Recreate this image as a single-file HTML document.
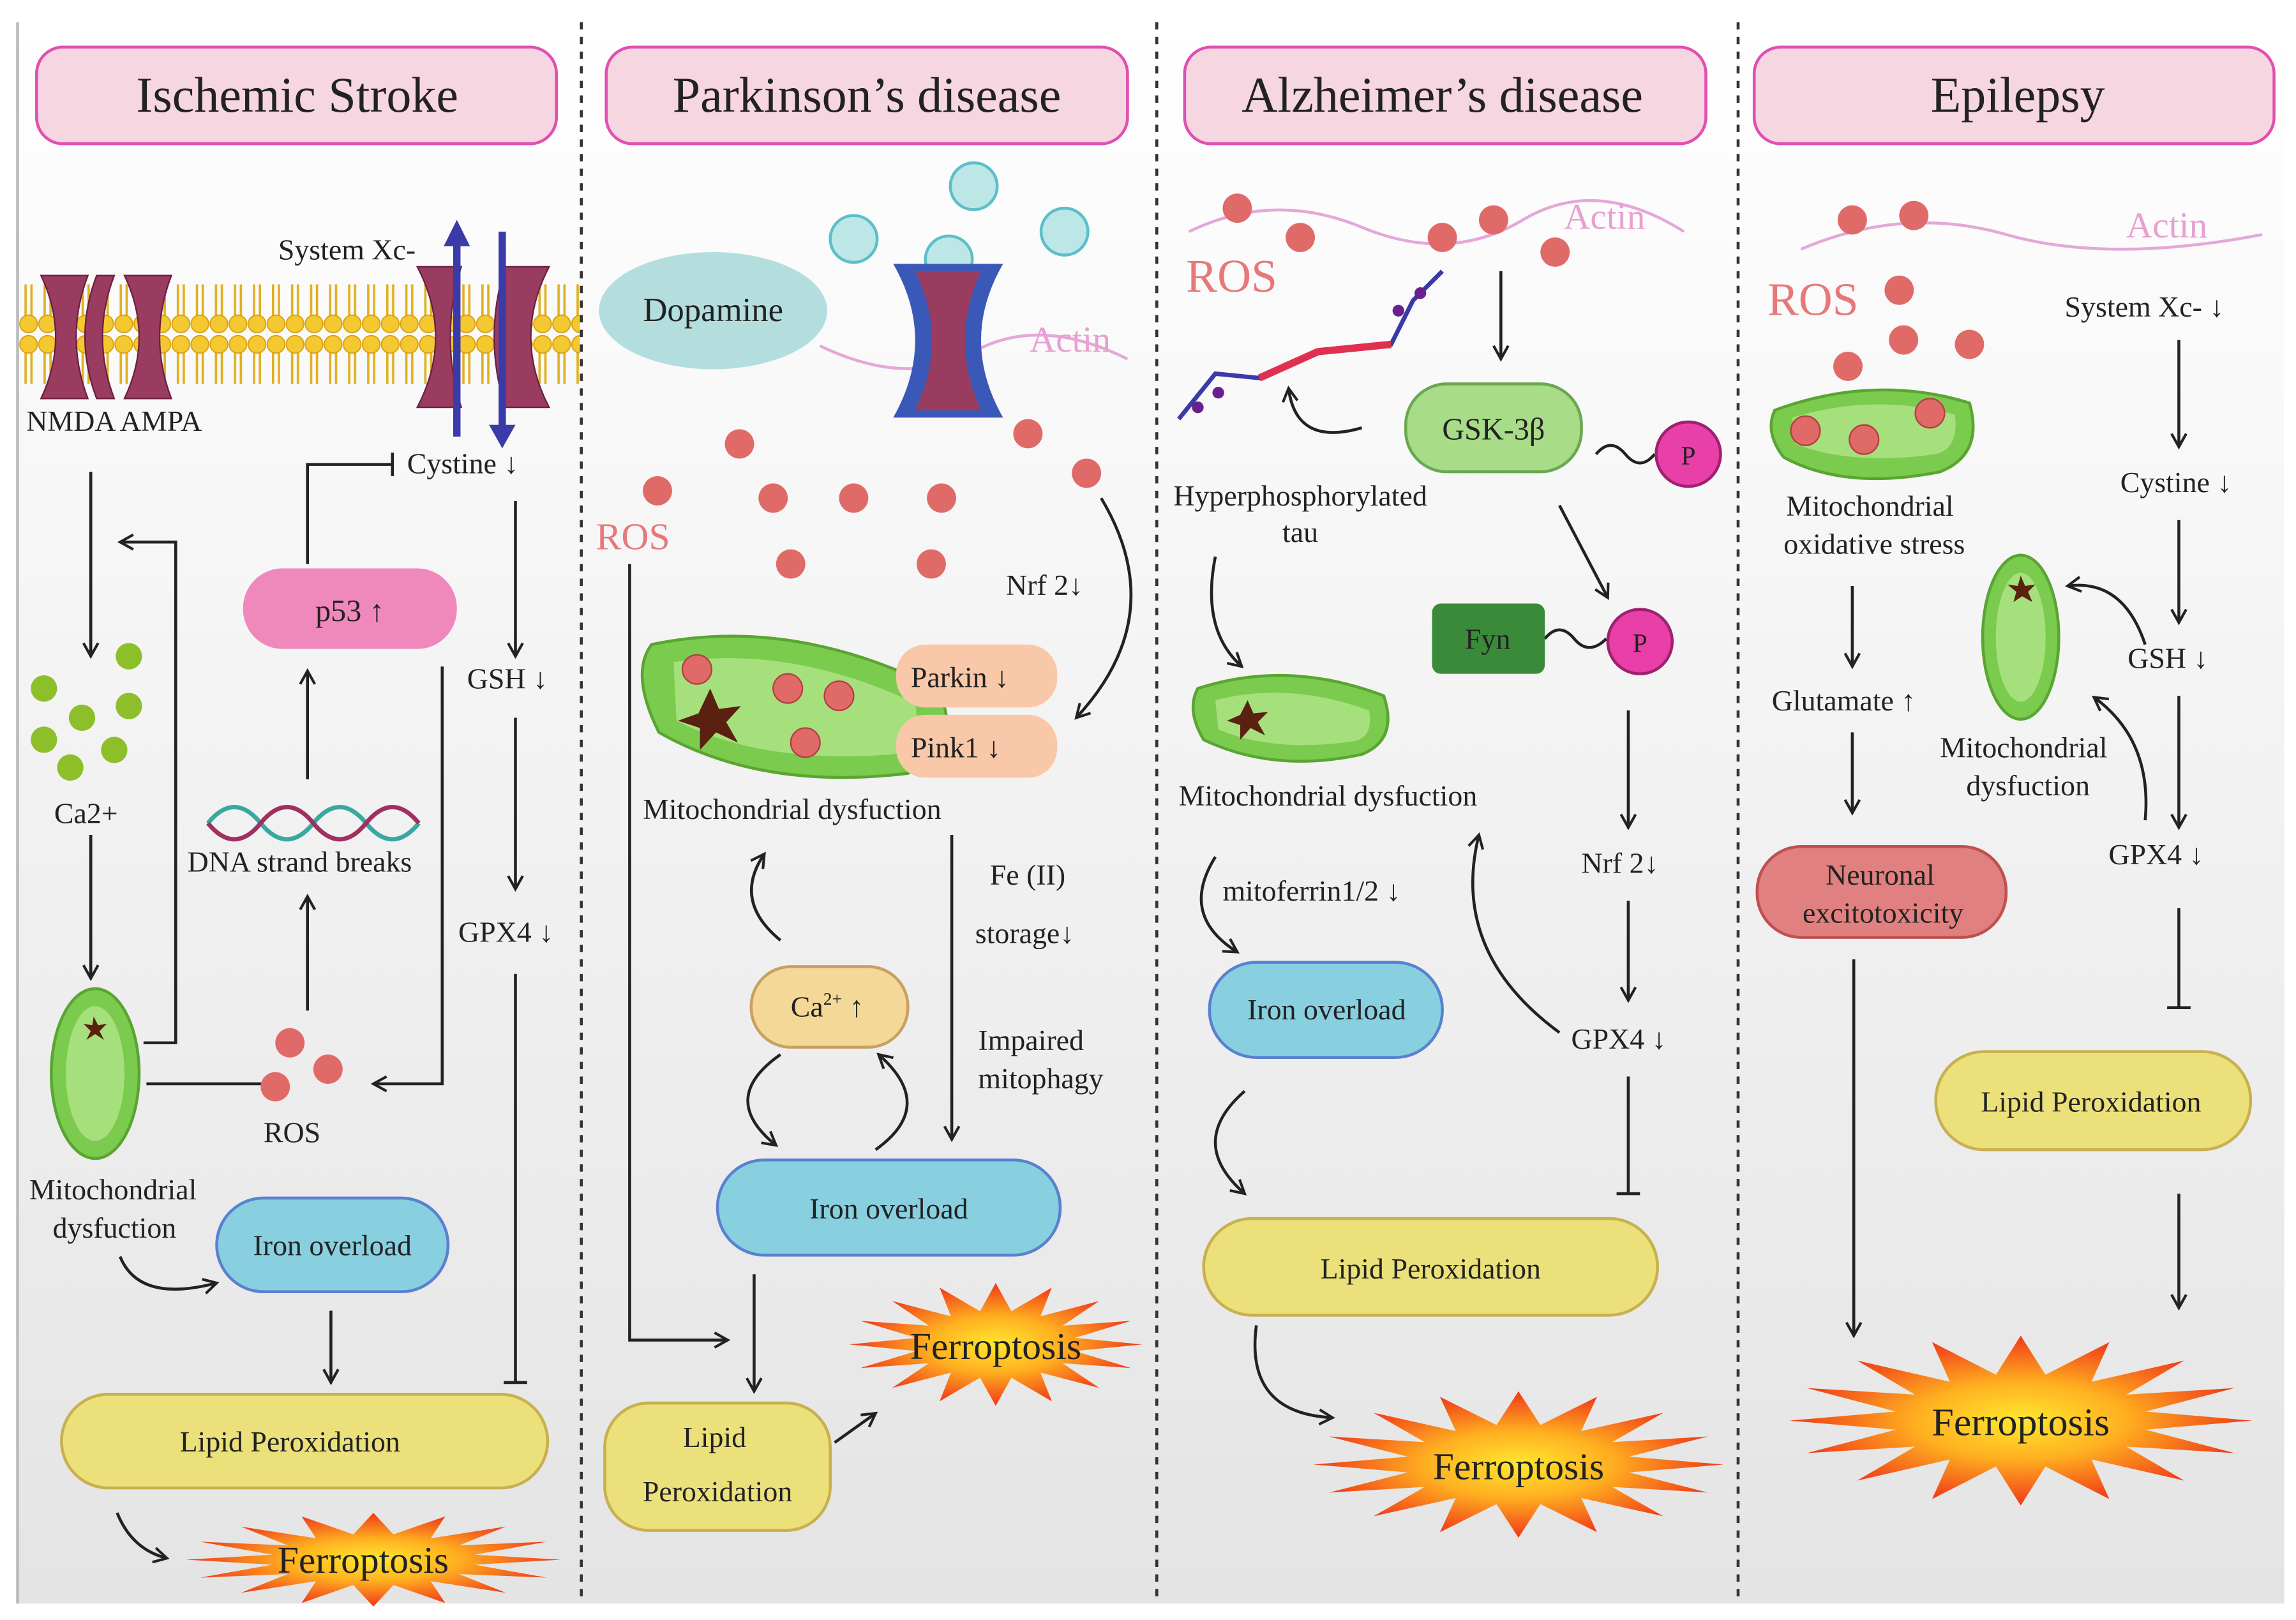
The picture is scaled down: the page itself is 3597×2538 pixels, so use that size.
<!DOCTYPE html>
<html><head><meta charset="utf-8"><style>
html,body{margin:0;padding:0;background:#fff;}
svg{display:block;}
text{font-family:"Liberation Serif",serif;fill:#222;}
</style></head><body>
<svg width="3597" height="2538" viewBox="0 0 1568 1106" xmlns="http://www.w3.org/2000/svg">
<defs>
<linearGradient id="bg" x1="0" y1="0" x2="0" y2="1"><stop offset="0" stop-color="#ffffff"/><stop offset="1" stop-color="#e4e4e4"/></linearGradient>
<radialGradient id="bz"><stop offset="0" stop-color="#ffe830"/><stop offset="0.45" stop-color="#ffb020"/><stop offset="1" stop-color="#f03818"/></radialGradient>
<marker id="a" markerWidth="12" markerHeight="12" refX="10" refY="6" orient="auto" markerUnits="userSpaceOnUse"><path d="M1,1 L10,6 L1,11" fill="none" stroke="#222" stroke-width="1.8"/></marker>
<pattern id="lip" width="13" height="76" patternUnits="userSpaceOnUse">
<line x1="4.5" y1="10" x2="4.5" y2="34" stroke="#e0b020" stroke-width="1.6"/><line x1="8.5" y1="10" x2="8.5" y2="34" stroke="#e0b020" stroke-width="1.6"/>
<line x1="4.5" y1="42" x2="4.5" y2="66" stroke="#e0b020" stroke-width="1.6"/><line x1="8.5" y1="42" x2="8.5" y2="66" stroke="#e0b020" stroke-width="1.6"/>
<circle cx="6.5" cy="7" r="6" fill="#f4c830" stroke="#d8a010" stroke-width="0.8"/><circle cx="6.5" cy="69" r="6" fill="#f4c830" stroke="#d8a010" stroke-width="0.8"/>
</pattern>
<polygon id="burst" points="1,0 .54,.107 .924,.383 .457,.306 .707,.707 .306,.457 .383,.924 .107,.54 0,1 -.107,.54 -.383,.924 -.306,.457 -.707,.707 -.457,.306 -.924,.383 -.54,.107 -1,0 -.54,-.107 -.924,-.383 -.457,-.306 -.707,-.707 -.306,-.457 -.383,-.924 -.107,-.54 0,-1 .107,-.54 .383,-.924 .306,-.457 .707,-.707 .457,-.306 .924,-.383 .54,-.107" fill="url(#bz)"/>
<g id="mitoH">
<ellipse cx="0" cy="0" rx="1" ry="1" fill="#7acb4e" stroke="#5aa532" stroke-width="0.04"/>
</g>
</defs>
<rect x="12" y="15" width="1548" height="1080" fill="url(#bg)"/>
<line x1="12" y1="15" x2="12" y2="1095" stroke="#bbb" stroke-width="2"/>
<g stroke="#333" stroke-width="2" stroke-dasharray="5,5"><line x1="397" y1="15" x2="397" y2="1095"/><line x1="790" y1="15" x2="790" y2="1095"/><line x1="1187" y1="15" x2="1187" y2="1095"/></g>

<!-- headers -->
<g fill="#f6d6e0" stroke="#e050b0" stroke-width="2">
<rect x="25" y="32" width="355" height="66" rx="18"/><rect x="414" y="32" width="356" height="66" rx="18"/><rect x="809" y="32" width="356" height="66" rx="18"/><rect x="1198" y="32" width="355" height="66" rx="18"/></g>
<g font-size="34" text-anchor="middle"><text x="203" y="76">Ischemic Stroke</text><text x="592" y="76">Parkinson’s disease</text><text x="985" y="76">Alzheimer’s disease</text><text x="1378" y="76">Epilepsy</text></g>

<!-- PANEL 1 -->
<rect x="13" y="192" width="383" height="76" fill="url(#lip)"/>
<g fill="#9a3c60" stroke="#6a2040" stroke-width="1">
<path d="M28,188 Q48,230 28,272 L60,272 Q44,230 60,188Z"/><path d="M66,188 Q50,230 66,272 L78,272 Q62,230 78,188Z"/>
<path d="M85,188 Q105,230 85,272 L117,272 Q101,230 117,188Z"/>
<path d="M285,182 Q310,230 285,278 L315,278 Q300,230 315,182Z"/><path d="M345,182 Q330,230 345,278 L375,278 Q350,230 375,182Z"/></g>
<g stroke="#3a3aa8" stroke-width="5"><line x1="312" y1="298" x2="312" y2="165"/><line x1="343" y1="158" x2="343" y2="292"/></g>
<polygon points="303,168 312,150 321,168" fill="#3a3aa8"/><polygon points="334,290 343,306 352,290" fill="#3a3aa8"/>
<g font-size="20"><text x="190" y="177">System Xc-</text><text x="18" y="294">NMDA AMPA</text><text x="278" y="323">Cystine ↓</text>
<text x="319" y="470">GSH ↓</text><text x="313" y="643">GPX4 ↓</text><text x="37" y="562">Ca2+</text><text x="128" y="595">DNA strand breaks</text>
<text x="180" y="780">ROS</text><text x="20" y="819">Mitochondrial</text><text x="36" y="845">dysfuction</text></g>
<g fill="none" stroke="#222" stroke-width="2" marker-end="url(#a)">
<line x1="62" y1="322" x2="62" y2="448"/><line x1="62" y1="570" x2="62" y2="668"/>
<polyline points="98,712 120,712 120,370 82,370"/>
<line x1="100" y1="740" x2="192" y2="740"/><line x1="210" y1="690" x2="210" y2="612"/><line x1="210" y1="532" x2="210" y2="458"/>
<polyline points="302,455 302,740 255,740"/>
<line x1="352" y1="342" x2="352" y2="448"/><line x1="352" y1="490" x2="352" y2="607"/>
<path d="M82,858 Q95,890 148,876"/><line x1="226" y1="895" x2="226" y2="944"/><path d="M80,1033 Q90,1058 114,1064"/>
</g>
<g fill="none" stroke="#222" stroke-width="2"><polyline points="210,385 210,317 268,317"/><line x1="268" y1="309" x2="268" y2="325"/>
<line x1="352" y1="665" x2="352" y2="944"/><line x1="344" y1="944" x2="360" y2="944"/></g>
<rect x="166" y="388" width="146" height="55" rx="27" fill="#ef88bb"/><text x="239" y="424" font-size="21" text-anchor="middle">p53 ↑</text>
<g fill="#8cbf2a"><circle cx="30" cy="470" r="9"/><circle cx="56" cy="490" r="9"/><circle cx="88" cy="448" r="9"/><circle cx="88" cy="482" r="9"/><circle cx="30" cy="505" r="9"/><circle cx="78" cy="512" r="9"/><circle cx="48" cy="524" r="9"/></g>
<g stroke-width="3" fill="none"><path d="M142,562 Q160,540 178,562 T214,562 T250,562 T286,562" stroke="#3aa8a0"/><path d="M142,562 Q160,584 178,562 T214,562 T250,562 T286,562" stroke="#a03060"/></g>
<g fill="#e06a68"><circle cx="198" cy="712" r="10"/><circle cx="224" cy="730" r="10"/><circle cx="188" cy="742" r="10"/></g>
<ellipse cx="65" cy="733" rx="30" ry="58" fill="#7acb4e" stroke="#5aa532" stroke-width="2"/><ellipse cx="65" cy="733" rx="20" ry="46" fill="#a6e07c"/>
<polygon points="64,694 67,700 73,699 68,704 71,710 65,706 59,710 62,704 57,699 63,700" fill="#5a2010"/>
<rect x="148" y="818" width="158" height="64" rx="32" fill="#88d0e0" stroke="#5a80d0" stroke-width="2"/><text x="227" y="857" font-size="20" text-anchor="middle">Iron overload</text>
<rect x="42" y="952" width="332" height="64" rx="32" fill="#ece07a" stroke="#c8b050" stroke-width="2"/><text x="198" y="991" font-size="20" text-anchor="middle">Lipid Peroxidation</text>
<use href="#burst" transform="translate(255,1065) scale(128,32)"/><text x="248" y="1074" font-size="26" text-anchor="middle">Ferroptosis</text>

<!-- PANEL 2 -->
<g fill="#bde6e6" stroke="#5bbfc8" stroke-width="2"><circle cx="665" cy="127" r="16"/><circle cx="583" cy="163" r="16"/><circle cx="727" cy="158" r="16"/><circle cx="648" cy="177" r="16"/></g>
<ellipse cx="487" cy="212" rx="78" ry="40" fill="#b4dede"/><text x="487" y="219" font-size="23" text-anchor="middle">Dopamine</text>
<path d="M560,236 Q620,265 665,240 T770,245" fill="none" stroke="#e4a8d8" stroke-width="2"/>
<text x="703" y="240" font-size="25" fill="#e8a0d0" style="fill:#e8a0d0">Actin</text>
<path d="M610,180 Q640,232 610,285 L685,285 Q655,232 685,180Z" fill="#3a58b8"/><path d="M625,185 Q648,232 625,280 L670,280 Q648,232 670,185Z" fill="#9a3c60"/>
<g fill="#e06a68"><circle cx="505" cy="303" r="10"/><circle cx="449" cy="335" r="10"/><circle cx="528" cy="340" r="10"/><circle cx="583" cy="340" r="10"/><circle cx="643" cy="340" r="10"/><circle cx="540" cy="385" r="10"/><circle cx="636" cy="385" r="10"/><circle cx="702" cy="296" r="10"/><circle cx="742" cy="323" r="10"/></g>
<text x="407" y="375" font-size="26" style="fill:#e87878">ROS</text>
<g font-size="20"><text x="687" y="406">Nrf 2↓</text><text x="439" y="559">Mitochondrial dysfuction</text><text x="676" y="604">Fe (II)</text><text x="666" y="644">storage↓</text><text x="668" y="717">Impaired</text><text x="668" y="743">mitophagy</text></g>
<g fill="none" stroke="#222" stroke-width="2" marker-end="url(#a)">
<path d="M752,340 Q800,420 735,490"/><path d="M533,642 Q500,615 522,583"/><line x1="650" y1="570" x2="650" y2="778"/>
<path d="M533,720 Q490,750 530,782"/><path d="M598,785 Q640,755 600,720"/>
<polyline points="430,385 430,915 497,915"/><line x1="515" y1="870" x2="515" y2="950"/><line x1="570" y1="985" x2="598" y2="965"/></g>
<path d="M445,440 Q540,420 640,470 Q660,510 620,528 Q520,540 450,500 Q430,460 445,440Z" fill="#7acb4e" stroke="#5aa532" stroke-width="2"/>
<path d="M460,452 Q540,440 625,480 Q630,510 610,515 Q520,522 462,492Z" fill="#a6e07c"/>
<g fill="#e06a68" stroke="#b04040"><circle cx="476" cy="457" r="10"/><circle cx="538" cy="470" r="10"/><circle cx="573" cy="475" r="10"/><circle cx="550" cy="507" r="10"/></g>
<polygon points="485,470 491,484 506,482 496,493 504,507 489,500 478,512 478,497 463,492 477,487" fill="#5a2010"/>
<rect x="612" y="440" width="110" height="43" rx="20" fill="#f9c8a8"/><rect x="612" y="488" width="110" height="43" rx="20" fill="#f9c8a8"/>
<text x="622" y="469" font-size="20">Parkin ↓</text><text x="622" y="517" font-size="20">Pink1 ↓</text>
<rect x="513" y="660" width="107" height="55" rx="27" fill="#f4d898" stroke="#c8a060" stroke-width="2"/><text x="540" y="694" font-size="20">Ca<tspan font-size="12" dy="-8">2+</tspan><tspan dy="8"> ↑</tspan></text>
<rect x="490" y="792" width="234" height="65" rx="32" fill="#88d0e0" stroke="#5a80d0" stroke-width="2"/><text x="607" y="832" font-size="20" text-anchor="middle">Iron overload</text>
<rect x="413" y="958" width="154" height="87" rx="30" fill="#ece07a" stroke="#c8b050" stroke-width="2"/><text x="488" y="988" font-size="20" text-anchor="middle">Lipid</text><text x="490" y="1025" font-size="20" text-anchor="middle">Peroxidation</text>
<use href="#burst" transform="translate(680,918) scale(100,42)"/><text x="680" y="928" font-size="26" text-anchor="middle">Ferroptosis</text>

<!-- PANEL 3 -->
<path d="M812,158 Q870,130 930,155 T1040,150 T1150,158" fill="none" stroke="#e4a8d8" stroke-width="2"/>
<text x="1068" y="156" font-size="25" style="fill:#e8a0d0">Actin</text>
<g fill="#e06a68"><circle cx="845" cy="142" r="10"/><circle cx="888" cy="162" r="10"/><circle cx="985" cy="162" r="10"/><circle cx="1020" cy="150" r="10"/><circle cx="1062" cy="172" r="10"/></g>
<text x="810" y="199" font-size="32" style="fill:#e87878">ROS</text>
<polyline points="805,286 830,255 860,258 900,240 950,235 965,205 985,185" fill="none" stroke="#3a3aa8" stroke-width="3"/>
<polyline points="860,258 900,240 950,235" fill="none" stroke="#e03050" stroke-width="5"/>
<g fill="#6a2090"><circle cx="818" cy="278" r="4"/><circle cx="832" cy="268" r="4"/><circle cx="955" cy="212" r="4"/><circle cx="970" cy="200" r="4"/></g>
<g fill="none" stroke="#222" stroke-width="2" marker-end="url(#a)">
<line x1="1025" y1="185" x2="1025" y2="245"/><path d="M930,292 Q885,305 880,265"/><line x1="1065" y1="345" x2="1098" y2="408"/>
<path d="M830,380 Q820,430 848,455"/><line x1="1112" y1="485" x2="1112" y2="565"/><line x1="1112" y1="615" x2="1112" y2="683"/>
<path d="M1065,705 Q990,650 1010,570"/><path d="M830,585 Q805,625 845,650"/><path d="M850,745 Q810,780 850,815"/><path d="M858,905 Q850,965 910,968"/></g>
<g fill="none" stroke="#222" stroke-width="2"><line x1="1112" y1="735" x2="1112" y2="815"/><line x1="1104" y1="815" x2="1120" y2="815"/>
<path d="M1090,310 q10,-12 20,0 t20,0"/><path d="M1055,436 q10,-12 20,0 t22,0"/></g>
<rect x="960" y="262" width="120" height="60" rx="28" fill="#a8dc88" stroke="#6aa84f" stroke-width="2"/><text x="1020" y="300" font-size="21" text-anchor="middle">GSK-3β</text>
<circle cx="1153" cy="310" r="22" fill="#e840a8" stroke="#a02070" stroke-width="2"/><text x="1153" y="317" font-size="18" text-anchor="middle">P</text>
<rect x="978" y="412" width="77" height="48" rx="6" fill="#3a8a3a"/><text x="1016" y="443" font-size="20" text-anchor="middle">Fyn</text>
<circle cx="1120" cy="438" r="22" fill="#e840a8" stroke="#a02070" stroke-width="2"/><text x="1120" y="445" font-size="18" text-anchor="middle">P</text>
<g font-size="20"><text x="888" y="345" text-anchor="middle">Hyperphosphorylated</text><text x="888" y="370" text-anchor="middle">tau</text>
<text x="805" y="550">Mitochondrial dysfuction</text><text x="1080" y="596">Nrf 2↓</text><text x="1073" y="716">GPX4 ↓</text><text x="835" y="615">mitoferrin1/2 ↓</text></g>
<path d="M818,470 Q880,450 945,475 Q955,505 930,515 Q870,528 822,505 Q810,485 818,470Z" fill="#7acb4e" stroke="#5aa532" stroke-width="2"/>
<path d="M830,478 Q880,465 935,485 Q938,503 925,506 Q870,514 832,498Z" fill="#a6e07c"/>
<polygon points="852,478 856,487 866,486 859,493 864,502 854,497 847,505 847,495 838,492 847,488" fill="#5a2010"/>
<rect x="826" y="657" width="159" height="65" rx="32" fill="#88d0e0" stroke="#5a80d0" stroke-width="2"/><text x="906" y="696" font-size="20" text-anchor="middle">Iron overload</text>
<rect x="822" y="832" width="310" height="66" rx="33" fill="#ece07a" stroke="#c8b050" stroke-width="2"/><text x="977" y="873" font-size="20" text-anchor="middle">Lipid Peroxidation</text>
<use href="#burst" transform="translate(1037,1000) scale(140,50)"/><text x="1037" y="1010" font-size="26" text-anchor="middle">Ferroptosis</text>

<!-- PANEL 4 -->
<path d="M1230,170 Q1300,140 1370,160 T1545,160" fill="none" stroke="#e4a8d8" stroke-width="2"/>
<text x="1452" y="162" font-size="25" style="fill:#e8a0d0">Actin</text>
<g fill="#e06a68"><circle cx="1265" cy="150" r="10"/><circle cx="1307" cy="147" r="10"/><circle cx="1297" cy="198" r="10"/><circle cx="1300" cy="232" r="10"/><circle cx="1345" cy="235" r="10"/><circle cx="1262" cy="250" r="10"/></g>
<text x="1207" y="215" font-size="32" style="fill:#e87878">ROS</text>
<path d="M1212,280 Q1280,255 1345,275 Q1355,310 1325,322 Q1260,335 1218,312 Q1205,295 1212,280Z" fill="#7acb4e" stroke="#5aa532" stroke-width="2"/>
<path d="M1224,285 Q1280,268 1335,283 Q1338,306 1322,310 Q1265,318 1226,303Z" fill="#a6e07c"/>
<g fill="#e06a68" stroke="#b04040"><circle cx="1233" cy="294" r="10"/><circle cx="1273" cy="300" r="10"/><circle cx="1318" cy="282" r="10"/></g>
<g font-size="20"><text x="1277" y="352" text-anchor="middle">Mitochondrial</text><text x="1280" y="378" text-anchor="middle">oxidative stress</text>
<text x="1210" y="485">Glutamate ↑</text><text x="1410" y="216">System Xc- ↓</text><text x="1448" y="336">Cystine ↓</text><text x="1453" y="456">GSH ↓</text><text x="1440" y="590">GPX4 ↓</text>
<text x="1382" y="517" text-anchor="middle">Mitochondrial</text><text x="1385" y="543" text-anchor="middle">dysfuction</text></g>
<g fill="none" stroke="#222" stroke-width="2" marker-end="url(#a)">
<line x1="1265" y1="400" x2="1265" y2="455"/><line x1="1265" y1="500" x2="1265" y2="555"/><line x1="1266" y1="655" x2="1266" y2="912"/>
<line x1="1488" y1="232" x2="1488" y2="305"/><line x1="1488" y1="355" x2="1488" y2="425"/><line x1="1488" y1="475" x2="1488" y2="565"/>
<path d="M1465,440 Q1450,395 1412,400"/><path d="M1465,560 Q1470,505 1430,476"/><line x1="1488" y1="815" x2="1488" y2="893"/></g>
<g fill="none" stroke="#222" stroke-width="2"><line x1="1488" y1="620" x2="1488" y2="688"/><line x1="1480" y1="688" x2="1496" y2="688"/></g>
<rect x="1200" y="578" width="170" height="62" rx="30" fill="#e08080" stroke="#c05050" stroke-width="2"/><text x="1284" y="604" font-size="20" text-anchor="middle">Neuronal</text><text x="1286" y="630" font-size="20" text-anchor="middle">excitotoxicity</text>
<ellipse cx="1380" cy="435" rx="26" ry="56" fill="#7acb4e" stroke="#5aa532" stroke-width="2"/><ellipse cx="1380" cy="435" rx="17" ry="44" fill="#a6e07c"/>
<polygon points="1380,393 1383,400 1390,399 1385,404 1388,411 1381,407 1375,411 1377,404 1371,399 1378,400" fill="#5a2010"/>
<rect x="1322" y="718" width="215" height="67" rx="33" fill="#ece07a" stroke="#c8b050" stroke-width="2"/><text x="1428" y="759" font-size="20" text-anchor="middle">Lipid Peroxidation</text>
<use href="#burst" transform="translate(1380,970) scale(158,58)"/><text x="1380" y="980" font-size="27" text-anchor="middle">Ferroptosis</text>
</svg>
</body></html>
